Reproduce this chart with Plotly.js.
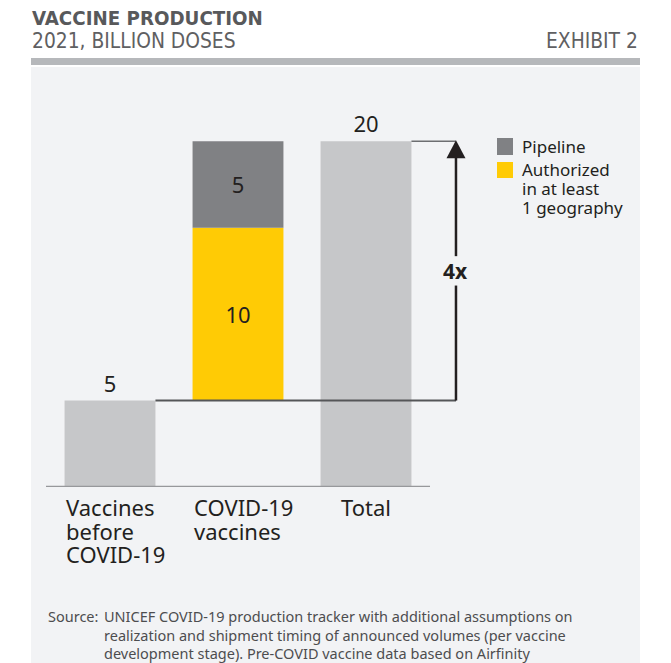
<!DOCTYPE html>
<html>
<head>
<meta charset="utf-8">
<script src="https://cdn.plot.ly/plotly-3.0.1.min.js"></script>
<style>html,body{margin:0;padding:0;background:#fff;}#chart{width:671px;height:663px;}</style>
</head>
<body>
<div id="chart"></div>
<script>
// ---------- data ----------
const categories = ["Vaccines before COVID-19", "COVID-19 vaccines", "Total"];
const categoryLines = [["Vaccines", "before", "COVID-19"], ["COVID-19", "vaccines"], ["Total"]];
const preCovidDoses = [5];
const authorizedDoses = [10];
const pipelineDoses = [5];
const totalDoses = [20];
const seriesNames = ["Pipeline", "Authorized in at least 1 geography"];
const legendLines = [["Pipeline"], ["Authorized", "in at least", "1 geography"]];
const multipleLabel = "4x";
const titleText = "VACCINE PRODUCTION";
const subtitleText = "2021, BILLION DOSES";
const exhibitText = "EXHIBIT 2";
const sourceLabel = "Source:";
const sourceLines = [
  "UNICEF COVID-19 production tracker with additional assumptions on",
  "realization and shipment timing of announced volumes (per vaccine",
  "development stage). Pre-COVID vaccine data based on Airfinity"
];

// ---------- style ----------
const C_LIGHT = "#c6c7c9", C_PIPE = "#808184", C_AUTH = "#ffcb05";
const C_TEXT = "#231f20", C_PANEL = "#f2f3f5", C_HEAD = "#b6b8bb";
const FONT = "Noto Sans";
const L = 46, T = 72, W = 594, H = 415;
const px = p => (p - L) / W;
const py = p => (T + H - p) / H;
const BW = 0.71;
const arrowX = 2.703;

const valueFont = {family: FONT, size: 22, color: C_TEXT};

const before = preCovidDoses[0];
const authBase = preCovidDoses.map(v => v);
const pipeBase = preCovidDoses.map((v, i) => v + authorizedDoses[i]);

const traces = [
  {type: "bar", x: [categories[0]], y: preCovidDoses, width: BW,
   marker: {color: C_LIGHT, line: {width: 0}}, text: preCovidDoses.map(String),
   textposition: "outside", textfont: valueFont, cliponaxis: false, showlegend: false, hoverinfo: "skip"},
  {type: "bar", x: [categories[1]], y: authorizedDoses, base: authBase, width: BW, name: seriesNames[1],
   marker: {color: C_AUTH, line: {width: 0}}, text: authorizedDoses.map(String),
   textposition: "inside", insidetextanchor: "middle", textfont: valueFont, constraintext: "none",
   showlegend: false, hoverinfo: "skip"},
  {type: "bar", x: [categories[1]], y: pipelineDoses, base: pipeBase, width: BW, name: seriesNames[0],
   marker: {color: C_PIPE, line: {width: 0}}, text: pipelineDoses.map(String),
   textposition: "inside", insidetextanchor: "middle", textfont: valueFont, constraintext: "none",
   showlegend: false, hoverinfo: "skip"},
  {type: "bar", x: [categories[2]], y: totalDoses, width: BW,
   marker: {color: C_LIGHT, line: {width: 0}}, text: totalDoses.map(String),
   textposition: "outside", textfont: valueFont, cliponaxis: false, showlegend: false, hoverinfo: "skip"}
];

const total = totalDoses[0];
const mid = (before + total) / 2;

const shapes = [
  {type: "rect", xref: "paper", yref: "paper", x0: px(31), x1: px(640), y0: py(663), y1: py(67),
   fillcolor: C_PANEL, line: {width: 0}, layer: "below"},
  {type: "rect", xref: "paper", yref: "paper", x0: px(31), x1: px(640), y0: py(65), y1: py(58),
   fillcolor: C_HEAD, line: {width: 0}, layer: "below"},
  {type: "line", xref: "x", yref: "y", x0: -0.5, x1: 2.5, y0: 0, y1: 0,
   line: {color: "#97989b", width: 2.5}},
  {type: "line", xref: "x", yref: "y", x0: BW / 2, x1: arrowX, y0: before, y1: before,
   line: {color: "#555658", width: 2}},
  {type: "line", xref: "x", yref: "y", x0: 2 + BW / 2, x1: arrowX, y0: total, y1: total,
   line: {color: "#6d6e71", width: 1.5}},
  {type: "line", xref: "x", yref: "y", x0: arrowX, x1: arrowX, y0: before, y1: mid - 0.85,
   line: {color: C_TEXT, width: 2.5}},
  {type: "line", xref: "x", yref: "y", x0: arrowX, x1: arrowX, y0: mid + 0.85, y1: total - 0.6,
   line: {color: C_TEXT, width: 2.5}},
  {type: "path", xref: "x", yref: "y", xsizemode: "pixel", ysizemode: "pixel",
   xanchor: arrowX, yanchor: total, path: "M-9.5,-17 L9.5,-17 L0,1 Z",
   fillcolor: C_TEXT, line: {width: 0}},
  // legend swatches
  {type: "rect", xref: "paper", yref: "paper", x0: px(497), x1: px(513), y0: py(155), y1: py(138),
   fillcolor: C_PIPE, line: {width: 0}},
  {type: "rect", xref: "paper", yref: "paper", x0: px(497), x1: px(513), y0: py(178), y1: py(162),
   fillcolor: C_AUTH, line: {width: 0}}
];

const annotations = [];
function addText(text, x, y, opts) {
  annotations.push(Object.assign({text: text, x: x, y: y, xref: "paper", yref: "paper",
    showarrow: false, xanchor: "left", yanchor: "middle", borderpad: 0}, opts || {}));
}
// header
addText("<b>" + titleText + "</b>", px(31), py(18.5), {font: {family: "DejaVu Sans Condensed", size: 20.3, color: "#58595b"}});
addText(subtitleText, px(31), py(41), {font: {family: "DejaVu Sans Condensed", size: 20.8, color: "#5f6062"}});
addText(exhibitText, px(639), py(41), {xanchor: "right", font: {family: "DejaVu Sans Condensed", size: 20.8, color: "#5f6062"}});

// category labels
const catFont = {family: FONT, size: 22, color: C_TEXT};
const catY = [507, 530.5, 554];
categoryLines.forEach((lines, i) => {
  const multi = lines.length > 1;
  lines.forEach((t, j) => {
    annotations.push({text: t, xref: "x", yref: "paper", x: multi ? i - BW / 2 : i, y: py(catY[j]),
      xanchor: multi ? "left" : "center", yanchor: "middle", showarrow: false, borderpad: 0, font: catFont});
  });
});

// 4x label
annotations.push({text: "<b>" + multipleLabel + "</b>", xref: "x", yref: "y", x: arrowX, y: mid,
  xanchor: "center", yanchor: "middle", showarrow: false, borderpad: 0,
  font: {family: FONT, size: 21, color: C_TEXT}});

// legend text
const legFont = {family: FONT, size: 17, color: C_TEXT};
const legY = [[146.5], [169.5, 188.5, 207.5]];
legendLines.forEach((lines, i) => {
  lines.forEach((t, j) => addText(t, px(521), py(legY[i][j]), {font: legFont}));
});

// source
const srcFont = {family: FONT, size: 14.5, color: "#4d4d4f"};
const srcY = [616, 634.5, 653];
addText(sourceLabel, px(47), py(srcY[0]), {font: srcFont});
sourceLines.forEach((t, j) => addText(t, px(103), py(srcY[j]), {font: srcFont}));

const layout = {
  width: 671, height: 663,
  margin: {l: L, r: 671 - L - W, t: T, b: 663 - T - H, pad: 0},
  paper_bgcolor: "#ffffff", plot_bgcolor: C_PANEL,
  barmode: "overlay", showlegend: false,
  xaxis: {type: "category", categoryorder: "array", categoryarray: categories,
    range: [-0.5, -0.5 + W / 128], showticklabels: false, showgrid: false, zeroline: false, showline: false, ticks: "", fixedrange: true},
  yaxis: {range: [0, 24], visible: false, fixedrange: true},
  shapes: shapes, annotations: annotations,
  font: {family: FONT, color: C_TEXT}
};

Plotly.newPlot("chart", traces, layout, {displayModeBar: false, staticPlot: true});
</script>
</body>
</html>
